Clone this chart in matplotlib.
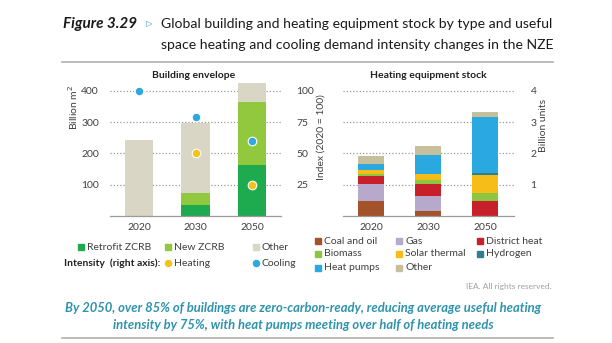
import matplotlib
matplotlib.use("Agg")
import matplotlib.pyplot as plt
from matplotlib.lines import Line2D

W, H = 612, 343

years = ["2020", "2030", "2050"]

# Building envelope stock (billion m2)
retrofit_zcrb = [0, 36, 164]
new_zcrb = [0, 37, 199]
other_buildings = [243, 225, 63]

# Useful space heating / cooling intensity, index 2020 = 100
heating_intensity = [100, 50, 25]
cooling_intensity = [100, 79, 60]

# Heating equipment stock (billion units)
equip_labels = ["Coal and oil", "Gas", "District heat", "Biomass",
                "Solar thermal", "Hydrogen", "Heat pumps", "Other"]
coal_oil = [0.48, 0.17, 0.0]
gas = [0.55, 0.48, 0.0]
district_heat = [0.26, 0.36, 0.48]
biomass = [0.06, 0.14, 0.27]
solar_thermal = [0.13, 0.18, 0.56]
hydrogen = [0.0, 0.02, 0.06]
heat_pumps = [0.19, 0.60, 1.80]
other_equip = [0.26, 0.28, 0.14]

C_RETRO = "#1eab4f"
C_NEW = "#92c83e"
C_OTHER_B = "#d9d6c6"
C_HEAT = "#f4c31a"
C_COOL = "#2ea8de"
equip_colors = ["#a3522a", "#b6a9cb", "#c8202b", "#8dc641",
                "#f6bd18", "#2f7f90", "#29a9e0", "#c5bf9c"]

TXT = "#404040"
GRID = "#9a9a9a"
TEAL = "#2f93ad"

plt.rcParams["font.family"] = ["Lato", "DejaVu Sans"]

fig = plt.figure(figsize=(W / 100, H / 100), dpi=100)


def fx(x):
    return x / W


def fy(y):
    return 1 - y / H


def axes_box(x0, x1, ytop, ybot):
    return [fx(x0), fy(ybot), fx(x1) - fx(x0), (ybot - ytop) / H]


BASE, TOP, GRID400 = 216, 80, 90.7
scale_top = (BASE - TOP) / (BASE - GRID400)


def style_axes(ax):
    for s in ("top", "right", "left"):
        ax.spines[s].set_visible(False)
    ax.spines["bottom"].set_color(GRID)
    ax.spines["bottom"].set_linewidth(0.9)
    ax.tick_params(axis="x", length=0, pad=5, labelsize=7.5, labelcolor=TXT)
    ax.tick_params(axis="y", length=0, labelsize=7.5, labelcolor=TXT)
    ax.set_axisbelow(True)


# ---------------- Building envelope ----------------
ax1 = fig.add_axes(axes_box(110, 281, TOP, BASE))
x = list(range(len(years)))
ax1.bar(x, retrofit_zcrb, 0.5, color=C_RETRO, zorder=2)
ax1.bar(x, new_zcrb, 0.5, bottom=retrofit_zcrb, color=C_NEW, zorder=2)
b3 = [a + b for a, b in zip(retrofit_zcrb, new_zcrb)]
ax1.bar(x, other_buildings, 0.5, bottom=b3, color=C_OTHER_B, zorder=2)
ax1.set_xlim(-0.513, 2.513)
ax1.set_ylim(0, 400 * scale_top)
ax1.set_yticks([100, 200, 300, 400])
ax1.set_xticks(x)
ax1.set_xticklabels(years)
ax1.yaxis.grid(True, color=GRID, linestyle=(0, (1, 1.6)), linewidth=0.9)
style_axes(ax1)
ax1.tick_params(axis="y", pad=8)

ax1r = ax1.twinx()
ax1r.set_ylim(0, 100 * scale_top)
ax1r.set_yticks([25, 50, 75, 100])
for s in ax1r.spines.values():
    s.set_visible(False)
ax1r.tick_params(axis="y", length=0, pad=11, labelsize=7.5, labelcolor=TXT)
ax1r.plot(x, heating_intensity, linestyle="none", marker="o", ms=6.2,
          mfc=C_HEAT, mec="white", mew=0.8, zorder=3)
ax1r.plot(x, cooling_intensity, linestyle="none", marker="o", ms=6.2,
          mfc=C_COOL, mec="white", mew=0.8, zorder=4)

# ---------------- Heating equipment stock ----------------
ax2 = fig.add_axes(axes_box(343, 514, TOP, BASE))
series = [coal_oil, gas, district_heat, biomass, solar_thermal,
          hydrogen, heat_pumps, other_equip]
bottom = [0.0] * 3
for vals, col in zip(series, equip_colors):
    ax2.bar(x, vals, 0.46, bottom=bottom, color=col, zorder=2)
    bottom = [b + v for b, v in zip(bottom, vals)]
ax2.set_xlim(-0.49, 2.51)
ax2.set_ylim(0, 4 * scale_top)
ax2.set_xticks(x)
ax2.set_xticklabels(years)
ax2.set_yticks([1, 2, 3, 4])
ax2.yaxis.grid(True, color=GRID, linestyle=(0, (1, 1.6)), linewidth=0.9)
style_axes(ax2)
ax2.yaxis.tick_right()
ax2.tick_params(axis="y", pad=12)

# ---------------- Panel titles and axis labels ----------------
fig.text(fx(194), fy(75), "Building envelope", ha="center", va="center",
         fontsize=7.5, fontweight="bold", color="#222222")
fig.text(fx(428), fy(75), "Heating equipment stock", ha="center", va="center",
         fontsize=7.5, fontweight="bold", color="#222222")
fig.text(fx(73), fy(107), "Billion m$^2$", rotation=90, ha="center",
         va="center", fontsize=7.5, color=TXT)
fig.text(fx(321), fy(137), "Index (2020 = 100)", rotation=90, ha="center",
         va="center", fontsize=7.5, color=TXT)
fig.text(fx(544), fy(125), "Billion units", rotation=90, ha="center",
         va="center", fontsize=7.5, color=TXT)


# ---------------- Legends ----------------
def sq(xp, yp, col):
    fig.add_artist(Line2D([fx(xp)], [fy(yp)], marker="s", ms=4.6,
                          color=col, linestyle="none",
                          transform=fig.transFigure))


def dot(xp, yp, col):
    fig.add_artist(Line2D([fx(xp)], [fy(yp)], marker="o", ms=4.4,
                          color=col, linestyle="none",
                          transform=fig.transFigure))


def lab(xp, yp, s, **kw):
    fig.text(fx(xp), fy(yp), s, ha="left", va="center", fontsize=7.5,
             color=kw.pop("color", TXT), **kw)


row1, row2 = 247, 263
for (xs, name, col) in [(81, "Retrofit ZCRB", C_RETRO),
                        (168, "New ZCRB", C_NEW),
                        (256, "Other", C_OTHER_B)]:
    sq(xs, row1, col)
    lab(xs + 6, row1, name)
lab(64, row2, "Intensity  (right axis):", fontweight="bold", color="#222222")
dot(168, row2, C_HEAT)
lab(174, row2, "Heating")
dot(256, row2, C_COOL)
lab(262, row2, "Cooling")

rows = [241, 254, 268]
cols = [318, 399, 480]
for i, (name, col) in enumerate(zip(equip_labels, equip_colors)):
    r, c = divmod(i, 3)
    sq(cols[c], rows[r], col)
    lab(cols[c] + 6, rows[r], name)

fig.text(fx(552), fy(287), "IEA. All rights reserved.", ha="right",
         va="center", fontsize=6, color="#a0a0a0")

# ---------------- Header ----------------
fig.text(fx(63), fy(24), "Figure 3.29", ha="left", va="center",
         fontsize=11, fontweight="bold", style="italic", color="#1a1a1a")
fig.text(fx(146), fy(24), "\u25b7", ha="left", va="center", fontsize=6,
         color=TEAL, family="DejaVu Sans")
fig.text(fx(161), fy(24),
         "Global building and heating equipment stock by type and useful",
         ha="left", va="center", fontsize=10.1, color="#1a1a1a")
fig.text(fx(161), fy(45),
         "space heating and cooling demand intensity changes in the NZE",
         ha="left", va="center", fontsize=10.1, color="#1a1a1a")
fig.add_artist(Line2D([fx(62), fx(553)], [fy(62), fy(62)], color="#b0b0b0",
                      lw=1.2, transform=fig.transFigure))

# ---------------- Caption ----------------
fig.text(fx(303), fy(308),
         "By 2050, over 85% of buildings are zero-carbon-ready, reducing "
         "average useful heating",
         ha="center", va="center", fontsize=9.4, fontweight="bold",
         style="italic", color=TEAL)
fig.text(fx(303), fy(325),
         "intensity by 75%, with heat pumps meeting over half of heating needs",
         ha="center", va="center", fontsize=9.4, fontweight="bold",
         style="italic", color=TEAL)
fig.add_artist(Line2D([fx(62), fx(553)], [fy(338), fy(338)], color="#b0b0b0",
                      lw=1.2, transform=fig.transFigure))

fig.savefig("out.png", dpi=100)
